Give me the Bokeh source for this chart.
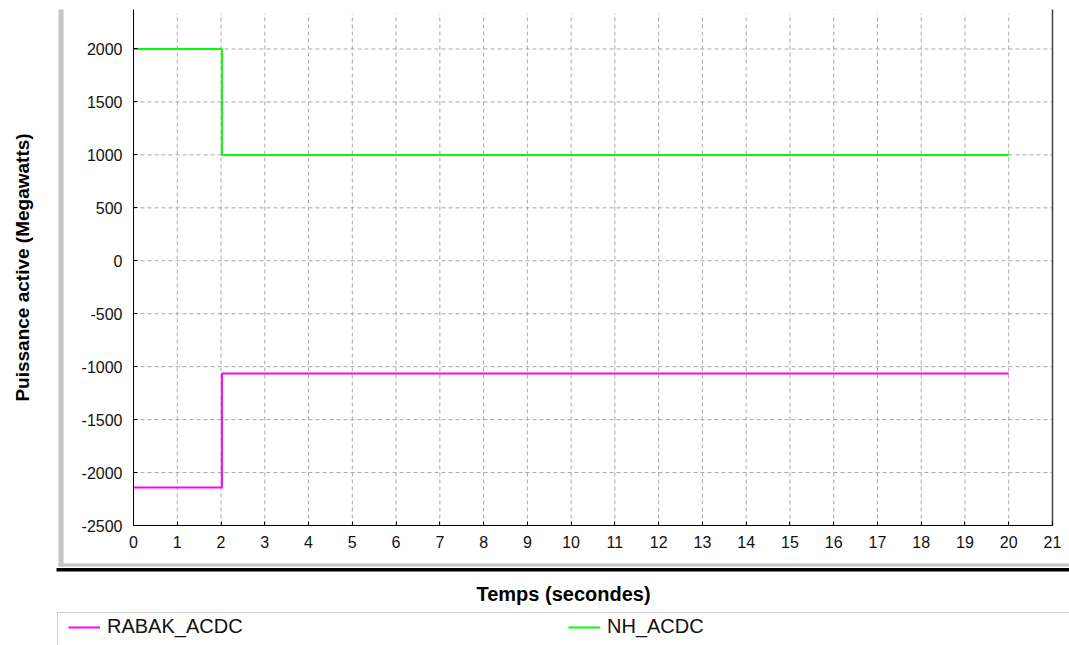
from bokeh.plotting import figure
from bokeh.models import (Range1d, FixedTicker, Label, BoxAnnotation,
                          Legend, LegendItem)
from bokeh.embed import file_html
from bokeh.resources import INLINE

# ---- data ----
time_s = [0, 2.02, 2.02, 20]
rabak_acdc = [-2140, -2140, -1065, -1065]
nh_acdc = [2000, 2000, 1000, 1000]
series_names = ["RABAK_ACDC", "NH_ACDC"]
x_ticks = list(range(0, 22))
y_ticks = list(range(-2500, 2001, 500))
x_title = "Temps (secondes)"
y_title = "Puissance active (Megawatts)"

# ---- layout constants (pixels) ----
W, H = 1069, 645
PL, PR, PT, PB = 133, 1052, 9, 525          # plot area edges on the canvas
X_MIN, X_MAX = 0, 21                         # data extent of plot area
Y_MIN, Y_MAX = -2500, 2373
FONT = "Liberation Sans"

sx = (PR - PL) / (X_MAX - X_MIN)
sy = (PB - PT) / (Y_MAX - Y_MIN)

p = figure(width=W, height=H, output_backend="svg", toolbar_location=None,
           x_range=Range1d(X_MIN - PL / sx, X_MAX + (W - PR) / sx),
           y_range=Range1d(Y_MIN - (H - PB) / sy, Y_MAX + PT / sy),
           min_border=0)
p.background_fill_color = "white"
p.border_fill_color = "white"
p.outline_line_color = None
p.xgrid.visible = False
p.ygrid.visible = False

# grid lines (dashed), drawn within the plot area only
grid_x = [t for t in x_ticks if t > X_MIN]
grid_y = [t for t in y_ticks if t > Y_MIN]
p.segment(x0=grid_x, y0=[Y_MIN] * len(grid_x), x1=grid_x, y1=[Y_MAX - 40] * len(grid_x),
          line_color="#a8a8a8", line_dash="4 3", line_width=1)
p.segment(x0=[X_MIN] * len(grid_y), y0=grid_y, x1=[X_MAX] * len(grid_y), y1=grid_y,
          line_color="#a8a8a8", line_dash="4 3", line_width=1)
# right border of the plot area
p.segment(x0=[X_MAX], y0=[Y_MIN], x1=[X_MAX], y1=[Y_MAX],
          line_color="#404040", line_width=1.5)

r1 = p.line(time_s, rabak_acdc, line_color="#FF00FF", line_width=2)
r2 = p.line(time_s, nh_acdc, line_color="#00FF00", line_width=2)

p.xaxis.fixed_location = Y_MIN
p.xaxis.bounds = (X_MIN, X_MAX)
p.yaxis.fixed_location = X_MIN
p.yaxis.bounds = (Y_MIN, Y_MAX)
for ax, ticks in ((p.xaxis[0], x_ticks), (p.yaxis[0], y_ticks)):
    ax.ticker = FixedTicker(ticks=ticks)
    ax.major_label_overrides = {t: str(t) for t in ticks}
    ax.major_tick_in = 4
    ax.major_tick_out = 0
    ax.minor_tick_line_color = None
    ax.axis_line_color = "black"
    ax.major_tick_line_color = "black"
    ax.major_label_text_font = FONT
    ax.major_label_text_font_size = "16px"
    ax.major_label_text_color = "#111111"
p.xaxis.major_label_standoff = 10
p.yaxis.major_label_standoff = 11


def box(left, right, bottom, top, color):
    p.add_layout(BoxAnnotation(left=left, right=right, bottom=bottom, top=top,
                               left_units="screen", right_units="screen",
                               bottom_units="screen", top_units="screen",
                               fill_color=color, fill_alpha=1, line_color=None,
                               level="underlay"))


# panel borders (screen units: x from left, y up from bottom)
box(58, 63, H - 566, H - 9, "#c4c4c4")
box(58, W, H - 566, H - 563, "#c4c4c4")
box(56, W, H - 571, H - 567.5, "#000000")
# legend box border
box(56.5, W, H - 612.5, H - 611.5, "#d0d0d0")
box(56.5, 57.5, 0, H - 612, "#d0d0d0")

# axis titles
p.add_layout(Label(x=22, y=H - 267, x_units="screen", y_units="screen",
                   text=y_title, angle=90, angle_units="deg",
                   text_align="center", text_baseline="middle",
                   text_font=FONT, text_font_size="19px", text_font_style="bold",
                   text_color="black"))
p.add_layout(Label(x=563, y=H - 593, x_units="screen", y_units="screen",
                   text=x_title, text_align="center", text_baseline="middle",
                   text_font=FONT, text_font_size="20px", text_font_style="bold",
                   text_color="black"))

legend = Legend(items=[LegendItem(label=series_names[0], renderers=[r1]),
                       LegendItem(label=series_names[1], renderers=[r2])],
                orientation="horizontal", location=(68, H - 638),
                padding=0, margin=0, spacing=0, glyph_width=32, glyph_height=18,
                label_height=18, label_width=461, label_standoff=7,
                border_line_color=None, background_fill_alpha=0,
                label_text_font=FONT, label_text_font_size="20px",
                label_text_color="#111111")
p.add_layout(legend, "center")

open("out.html", "w").write(file_html(p, INLINE))
